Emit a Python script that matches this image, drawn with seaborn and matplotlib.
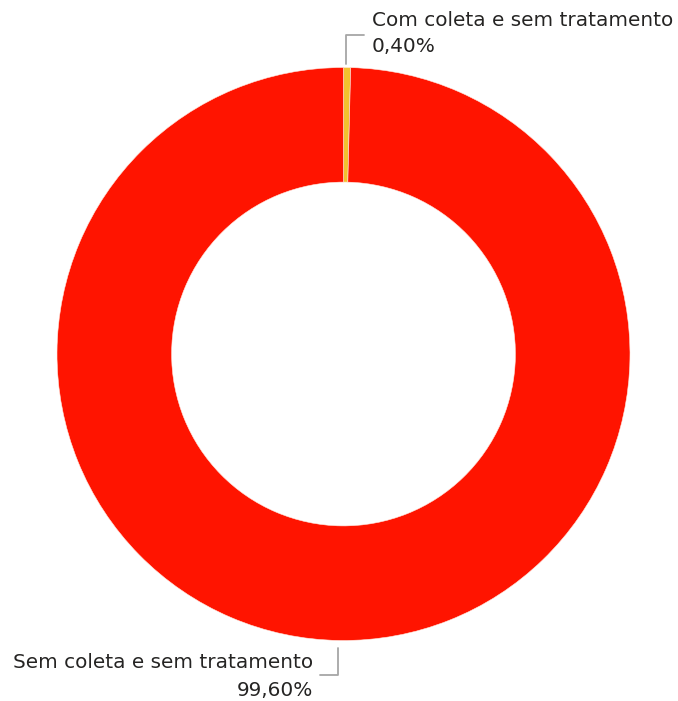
import matplotlib
matplotlib.use("Agg")
import matplotlib.pyplot as plt
import seaborn as sns

categories = ["Com coleta e sem tratamento", "Sem coleta e sem tratamento"]
values = [0.40, 99.60]
value_labels = ["0,40%", "99,60%"]
colors = ["#F2C12E", "#FF1400"]

sns.set_theme(style="white")
plt.rcParams['font.family'] = ['DejaVu Sans']

W, H = 678, 701
fig = plt.figure(figsize=(W / 100, H / 100), dpi=100)
ax = fig.add_axes([0, 0, 1, 1])

cx, cy, R = 343.5, H - 354, 286.5
ax.pie(values, colors=colors, startangle=90, counterclock=False,
       center=(cx, cy), radius=R,
       wedgeprops=dict(width=R * 0.4, edgecolor="#FFE9E0", linewidth=0.4))
ax.set_xlim(0, W)
ax.set_ylim(0, H)
ax.set_aspect('auto')
ax.axis('off')

lc = "#A6A6A6"
tc = "#252423"
fs = 14.4
# top label
ax.plot([346, 346, 364], [H - 64, H - 35, H - 35], color=lc, lw=1.3)
ax.text(372, H - 20, categories[0], ha="left", va="center", fontsize=fs, color=tc)
ax.text(372, H - 47, value_labels[0], ha="left", va="center", fontsize=fs, color=tc)
# bottom label
ax.plot([338, 338, 320], [H - 648, H - 675, H - 675], color=lc, lw=1.3)
ax.text(313, H - 663, categories[1], ha="right", va="center", fontsize=fs, color=tc)
ax.text(313, H - 690, value_labels[1], ha="right", va="center", fontsize=fs, color=tc)

fig.savefig("out.png", dpi=100)
